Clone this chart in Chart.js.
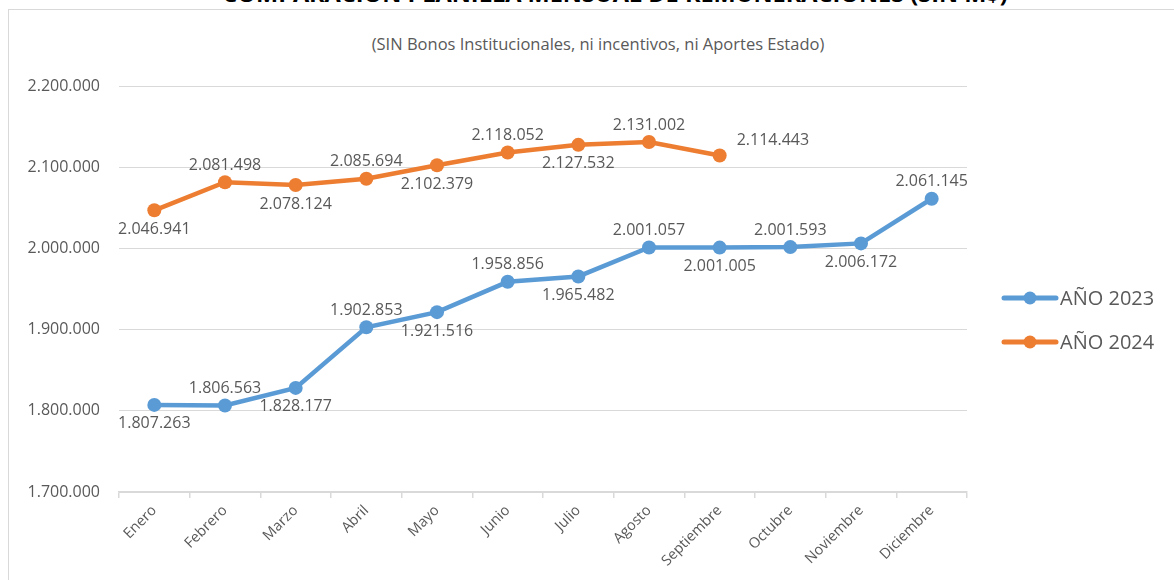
<!DOCTYPE html>
<html>
<head>
<meta charset="utf-8">
<script src="https://cdn.jsdelivr.net/npm/chart.js@4.4.1/dist/chart.umd.min.js"></script>
<style>
  body { margin: 0; background: #fff; }
  #wrap { position: relative; width: 1174px; height: 580px; overflow: hidden; background: #fff; }
  #frame { position: absolute; left: 8px; top: 9px; width: 1200px; height: 600px; border: 1.5px solid #d9d9d9; box-sizing: border-box; }
  #title { position: absolute; left: 0; width: 1230px; top: -23px; margin: 0; text-align: center;
    font: bold 23.5px "Open Sans", sans-serif; color: #000; white-space: nowrap; }
  #subtitle { position: absolute; left: 0; width: 1196px; top: 32px; text-align: center;
    font: 16.5px "Open Sans", sans-serif; color: #595959; }
  canvas { position: absolute; left: 0; top: 0; }
</style>
</head>
<body>
<div id="wrap">
  <div id="frame"></div>
  <h1 id="title">COMPARACIÓN PLANILLA MENSUAL DE REMUNERACIONES (SIN M$)</h1>
  <div id="subtitle">(SIN Bonos Institucionales, ni incentivos, ni Aportes Estado)</div>
  <canvas id="chart" width="1174" height="580"></canvas>
</div>
<script>
// ===== DATA =====
const months = ['Enero', 'Febrero', 'Marzo', 'Abril', 'Mayo', 'Junio', 'Julio', 'Agosto', 'Septiembre', 'Octubre', 'Noviembre', 'Diciembre'];
const values2023 = [1807263, 1806563, 1828177, 1902853, 1921516, 1958856, 1965482, 2001057, 2001005, 2001593, 2006172, 2061145];
const values2024 = [2046941, 2081498, 2078124, 2085694, 2102379, 2118052, 2127532, 2131002, 2114443];
const yMin = 1700000, yMax = 2200000, yStep = 100000;

// label placement (style only)
const pos2023 = ['below', 'above', 'below', 'above', 'below', 'above', 'below', 'above', 'below', 'above', 'below', 'above'];
const pos2024 = ['below', 'above', 'below', 'above', 'below', 'above', 'below', 'above', 'right'];

const BLUE = '#5b9bd5', ORANGE = '#ed7d31', GREY = '#595959', GRID = '#d9d9d9';
const FONT = '"Open Sans", sans-serif';

function fmt(v) {
  return String(Math.round(v)).replace(/\B(?=(\d{3})+(?!\d))/g, '.');
}

// ===== POINT LABELS =====
const pointLabels = {
  id: 'pointLabels',
  afterDatasetsDraw(chart) {
    const ctx = chart.ctx;
    ctx.save();
    ctx.font = '16px ' + FONT;
    ctx.fillStyle = GREY;
    ctx.textBaseline = 'middle';
    chart.data.datasets.forEach((ds, di) => {
      const meta = chart.getDatasetMeta(di);
      meta.data.forEach((pt, i) => {
        const p = ds.labelPos[i];
        const txt = fmt(ds.data[i]);
        if (p === 'right') {
          ctx.textAlign = 'left';
          ctx.fillText(txt, pt.x + 17, pt.y - 15);
        } else {
          ctx.textAlign = 'center';
          ctx.fillText(txt, pt.x, p === 'above' ? pt.y - 17 : pt.y + 19);
        }
      });
    });
    ctx.restore();
  }
};

// ===== LEGEND =====
const sideLegend = {
  id: 'sideLegend',
  afterDraw(chart) {
    const ctx = chart.ctx;
    ctx.save();
    chart.data.datasets.forEach((ds, i) => {
      const y = 298 + i * 44;
      ctx.strokeStyle = ds.borderColor;
      ctx.lineWidth = 5;
      ctx.lineCap = 'round';
      ctx.beginPath();
      ctx.moveTo(1004, y);
      ctx.lineTo(1056, y);
      ctx.stroke();
      ctx.fillStyle = ds.borderColor;
      ctx.beginPath();
      ctx.arc(1030, y, 6.5, 0, Math.PI * 2);
      ctx.fill();
      ctx.fillStyle = GREY;
      ctx.font = '20px ' + FONT;
      ctx.textAlign = 'left';
      ctx.textBaseline = 'middle';
      ctx.fillText(ds.label, 1060, y + 1);
    });
    ctx.restore();
  }
};

// ===== CHART =====
new Chart(document.getElementById('chart'), {
  type: 'line',
  data: {
    labels: months,
    datasets: [
      { label: 'AÑO 2023', data: values2023, labelPos: pos2023, borderColor: BLUE, backgroundColor: BLUE,
        borderWidth: 4.5, pointRadius: 7, pointBackgroundColor: BLUE, pointBorderWidth: 0, tension: 0 },
      { label: 'AÑO 2024', data: values2024, labelPos: pos2024, borderColor: ORANGE, backgroundColor: ORANGE,
        borderWidth: 4.5, pointRadius: 7, pointBackgroundColor: ORANGE, pointBorderWidth: 0, tension: 0 }
    ]
  },
  options: {
    responsive: false,
    animation: false,
    devicePixelRatio: 1,
    layout: { padding: { top: 86, right: 207, left: 0, bottom: 0 } },
    plugins: { legend: { display: false }, tooltip: { enabled: false } },
    events: [],
    scales: {
      x: {
        offset: true,
        afterFit: s => { s.height = 88; },
        grid: { display: true, drawOnChartArea: false, drawTicks: true, tickLength: 6, color: GRID, offset: true, lineWidth: 1.5 },
        border: { color: GRID, width: 1.5 },
        ticks: { minRotation: 45, maxRotation: 45, color: GREY, font: { family: FONT, size: 14.5 }, padding: 4 }
      },
      y: {
        min: yMin, max: yMax,
        afterFit: s => { s.width = 119; },
        grid: { color: GRID, lineWidth: 1, drawTicks: false },
        border: { display: false },
        ticks: { stepSize: yStep, color: GREY, font: { family: FONT, size: 16 }, padding: 19, callback: v => fmt(v) }
      }
    }
  },
  plugins: [pointLabels, sideLegend]
});
</script>
</body>
</html>
